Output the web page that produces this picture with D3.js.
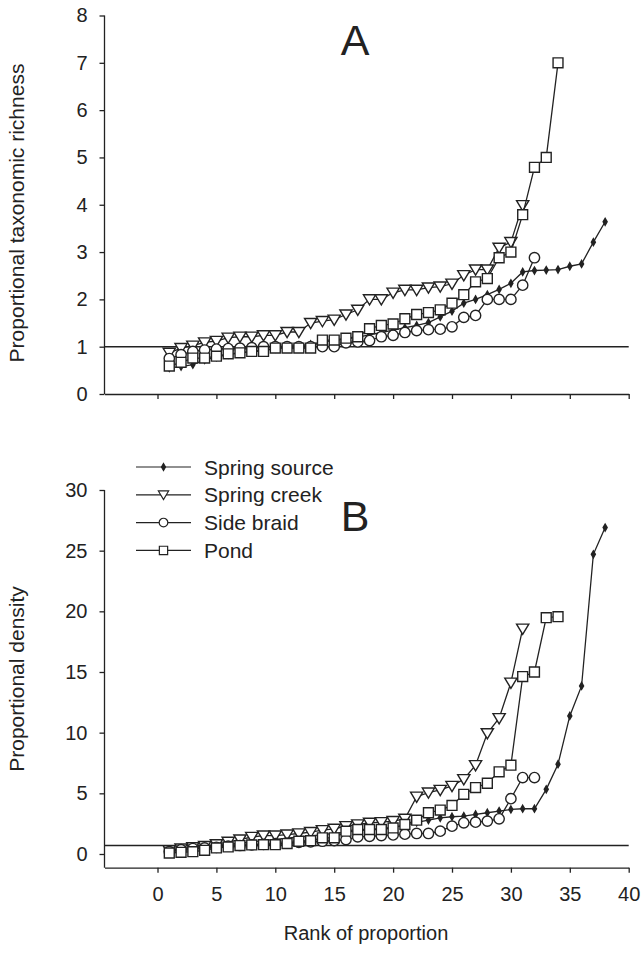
<!DOCTYPE html>
<html>
<head>
  <meta charset="utf-8" />
  <title>Proportional richness and density</title>
  <style>
    body { margin: 0; background: #ffffff; }
    svg text { font-family: "Liberation Sans", Arial, sans-serif; fill: #222; }
  </style>
  <script src="https://cdnjs.cloudflare.com/ajax/libs/d3/7.8.5/d3.min.js"></script>
</head>
<body>
<div id="chart"></div>
<script>
// ranks are 1..n for every series
var seriesNames = ["Spring source", "Spring creek", "Side braid", "Pond"];
var rankTicks = [0, 5, 10, 15, 20, 25, 30, 35, 40];
var richTicks = [0, 1, 2, 3, 4, 5, 6, 7, 8];
var densTicks = [0, 5, 10, 15, 20, 25, 30];

// panel A - proportional taxonomic richness
var sourceA = [0.55,0.58,0.62,0.72,0.78,0.83,0.87,0.9,0.93,0.96,1.0,1.02,1.05,1.1,1.13,1.16,1.2,1.25,1.3,1.35,1.4,1.45,1.51,1.63,1.75,1.92,2.0,2.1,2.21,2.34,2.58,2.61,2.62,2.63,2.7,2.75,3.21,3.64];
var creekA = [0.87,0.97,1.02,1.09,1.12,1.19,1.21,1.21,1.24,1.24,1.31,1.31,1.5,1.54,1.57,1.68,1.78,2.0,2.0,2.14,2.2,2.2,2.25,2.27,2.33,2.51,2.63,2.63,3.09,3.21,3.99];
var braidA = [0.75,0.83,0.9,0.93,0.95,0.96,0.97,0.98,1.0,1.0,1.0,1.0,1.0,1.0,1.0,1.08,1.1,1.13,1.21,1.24,1.3,1.34,1.36,1.37,1.42,1.62,1.66,2.0,2.0,2.0,2.3,2.88];
var pondA = [0.59,0.67,0.76,0.76,0.8,0.85,0.87,0.9,0.9,0.97,0.97,0.97,0.97,1.14,1.14,1.18,1.21,1.38,1.45,1.48,1.59,1.68,1.72,1.78,1.92,2.1,2.37,2.44,2.88,3.0,3.79,4.79,5.0,7.0];

// panel B - proportional density
var sourceB = [0.2,0.35,0.45,0.55,0.7,0.8,0.9,1.0,1.1,1.2,1.3,1.4,1.5,1.6,1.7,1.8,1.9,2.0,2.1,2.2,2.35,2.6,2.8,2.98,3.07,3.12,3.26,3.4,3.54,3.67,3.73,3.73,5.33,7.4,11.38,13.85,24.7,26.9];
var creekB = [0.3,0.45,0.55,0.65,0.8,1.0,1.19,1.4,1.52,1.52,1.6,1.69,1.8,1.96,2.07,2.29,2.43,2.57,2.62,2.71,2.9,4.72,5.06,5.28,5.61,6.16,7.32,9.95,11.19,14.12,18.57];
var braidB = [0.2,0.35,0.45,0.5,0.55,0.65,0.7,0.75,0.8,0.85,0.9,0.95,1.0,1.05,1.1,1.19,1.41,1.46,1.52,1.57,1.63,1.69,1.69,1.88,2.29,2.57,2.62,2.71,2.9,4.56,6.3,6.3];
var pondB = [0.08,0.14,0.19,0.3,0.5,0.58,0.69,0.75,0.77,0.77,0.86,1.05,1.1,1.33,1.33,1.88,2.02,2.02,2.02,2.15,2.43,2.79,3.4,3.62,4.0,4.92,5.47,5.83,6.77,7.32,14.62,15.0,19.48,19.56];

var refA = 1, refB = 0.7;

var W = 644, H = 953;
var ink = "#222";

var svg = d3.select("#chart").append("svg")
  .attr("width", W).attr("height", H);

var x = d3.scaleLinear().domain([-4.5, 40]).range([104.5, 628.7]);
var yA = d3.scaleLinear().domain([0, 8]).range([394, 15.5]);
var yB = d3.scaleLinear().domain([-1.13, 30]).range([867.7, 490]);

// marker shapes
var triDown = {
  draw: function (ctx, size) {
    var s = Math.sqrt(size);
    ctx.moveTo(-s * 0.6, -s * 0.45);
    ctx.lineTo(s * 0.6, -s * 0.45);
    ctx.lineTo(0, s * 0.55);
    ctx.closePath();
  }
};
var markers = [
  { type: d3.symbolDiamond, size: 14, fill: ink },
  { type: triDown, size: 104, fill: "#fff" },
  { type: d3.symbolCircle, size: 84, fill: "#fff" },
  { type: d3.symbolSquare, size: 98, fill: "#fff" }
];

function drawPanel(y, ticksY, seriesList, ref, showXLabels) {
  var g = svg.append("g");

  var ax = g.append("g")
    .attr("transform", "translate(0," + y.range()[0] + ")")
    .call(d3.axisBottom(x).tickValues(rankTicks).tickSizeInner(5).tickSizeOuter(0).tickPadding(14)
      .tickFormat(showXLabels ? d3.format("d") : ""));

  var ay = g.append("g")
    .attr("transform", "translate(" + x.range()[0] + ",0)")
    .call(d3.axisLeft(y).tickValues(ticksY).tickSizeInner(5).tickSizeOuter(0).tickPadding(12));

  [ax, ay].forEach(function (a) {
    a.selectAll("path, line").attr("stroke", ink).attr("stroke-width", 1.3);
    a.selectAll("text").attr("font-size", 20).attr("fill", ink);
  });
  ay.select(".domain").attr("d", "M0," + y.range()[0] + "V" + y(ticksY[ticksY.length - 1]));

  // reference line
  g.append("line")
    .attr("x1", x.range()[0]).attr("x2", x.range()[1])
    .attr("y1", y(ref)).attr("y2", y(ref))
    .attr("stroke", ink).attr("stroke-width", 1.5);

  var line = d3.line()
    .x(function (d, i) { return x(i + 1); })
    .y(function (d) { return y(d); });

  seriesList.forEach(function (vals, k) {
    var s = g.append("g");
    s.append("path")
      .attr("d", line(vals))
      .attr("fill", "none").attr("stroke", ink).attr("stroke-width", 1.3);
    s.selectAll("path.pt")
      .data(vals)
      .enter().append("path")
      .attr("class", "pt")
      .attr("transform", function (d, i) { return "translate(" + x(i + 1) + "," + y(d) + ")"; })
      .attr("d", d3.symbol().type(markers[k].type).size(markers[k].size))
      .attr("fill", markers[k].fill)
      .attr("stroke", ink).attr("stroke-width", 1.4);
  });
  return g;
}

drawPanel(yA, richTicks, [sourceA, creekA, braidA, pondA], refA, false);
drawPanel(yB, densTicks, [sourceB, creekB, braidB, pondB], refB, true);

// panel letters
svg.append("text").attr("x", 355).attr("y", 55).attr("text-anchor", "middle")
  .attr("font-size", 43).text("A");
svg.append("text").attr("x", 355).attr("y", 531).attr("text-anchor", "middle")
  .attr("font-size", 43).text("B");

// axis titles
svg.append("text")
  .attr("transform", "translate(24,213) rotate(-90)")
  .attr("text-anchor", "middle").attr("font-size", 21)
  .text("Proportional taxonomic richness");
svg.append("text")
  .attr("transform", "translate(24,679) rotate(-90)")
  .attr("text-anchor", "middle").attr("font-size", 21)
  .text("Proportional density");
svg.append("text")
  .attr("x", 366).attr("y", 940).attr("text-anchor", "middle")
  .attr("font-size", 20).text("Rank of proportion");

// legend
var leg = svg.append("g");
seriesNames.forEach(function (name, k) {
  var ly = 467 + k * 27.8;
  leg.append("line").attr("x1", 136).attr("x2", 191).attr("y1", ly).attr("y2", ly)
    .attr("stroke", ink).attr("stroke-width", 1.2);
  leg.append("path")
    .attr("transform", "translate(163.5," + ly + ")")
    .attr("d", d3.symbol().type(markers[k].type).size(k === 0 ? 14 : markers[k].size * 0.7))
    .attr("fill", markers[k].fill).attr("stroke", ink).attr("stroke-width", 1.2);
  leg.append("text").attr("x", 204).attr("y", ly + 7.5)
    .attr("font-size", 21).text(name);
});
</script>
</body>
</html>
